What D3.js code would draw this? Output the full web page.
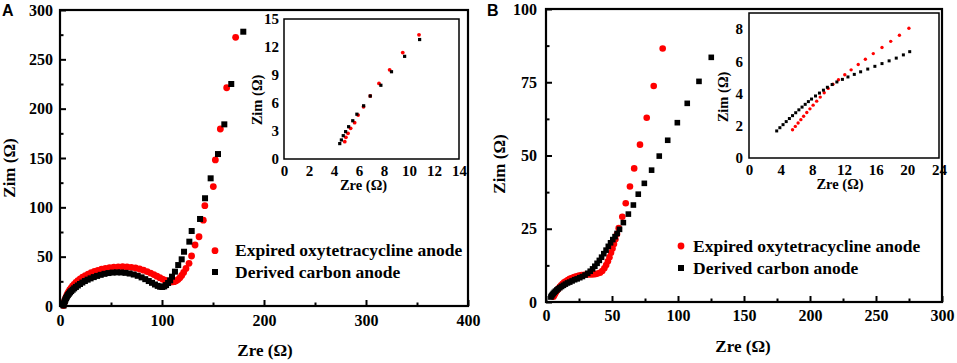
<!DOCTYPE html>
<html lang="en">
<head>
<meta charset="UTF-8">
<script src="https://d3js.org/d3.v7.min.js"></script>
<title>EIS Nyquist plots</title>
<style>
  body { margin: 0; background: #fff; }
  svg text { font-family: "Liberation Serif", "Times New Roman", serif; font-weight: bold; fill: #000; }
  svg text.letter { font-family: "Liberation Sans", Arial, sans-serif; }
</style>
</head>
<body>
<svg id="chart" width="957" height="363"></svg>
<script>

// ---- data: [Zre, Zim] in ohm ----
const seriesNames = ["Expired oxytetracycline anode", "Derived carbon anode"];

// panel A main
const aExpired = [[3.5,0.5],[3.9,2.5],[4.4,4.5],[5,6.5],[5.7,8.5],[6.5,10.5],[7.4,12.4],[8.4,14.3],[9.5,16.2],[10.8,18.1],
  [12.2,20],[13.8,21.9],[15.6,23.8],[17.6,25.7],[19.8,27.5],[22.2,29.2],[24.8,30.8],[27.6,32.3],[30.6,33.7],[33.8,35],
  [37.2,36.2],[40.8,37.3],[44.6,38.2],[48.6,38.9],[52.8,39.4],[57.1,39.7],[61.4,39.8],[65.7,39.6],[69.9,39.2],[74,38.5],
  [78,37.5],[81.8,36.3],[85.4,34.9],[88.8,33.4],[92,31.8],[95,30.2],[97.8,28.7],[100.4,27.3],[102.9,26.1],[105.3,25.2],
  [107.6,24.6],[109.8,24.4],[111.9,24.7],[113.9,25.5],[115.7,26.8],[117.5,28.6],[119.3,31],[121.2,34],[123.5,38],[126.5,43.3],
  [129,50.7],[132.4,61.8],[136.3,70.2],[140.5,87],[142,101.7],[150.3,121],[152.3,148],[157.2,179.4],[163.4,221.2],[172.2,272.3]];
const aCarbon = [[3.5,0.5],[3.8,2],[4.2,3.5],[4.7,5],[5.3,6.5],[6,8],[6.8,9.5],[7.7,11],[8.7,12.4],[9.8,13.8],
  [11,15.1],[12.4,16.5],[13.9,17.9],[15.6,19.3],[17.5,20.8],[19.6,22.3],[21.9,23.8],[24.4,25.3],[27.1,26.7],[30,28],
  [33.1,29.3],[36.4,30.5],[39.9,31.6],[43.6,32.6],[47.5,33.4],[51.6,33.9],[55.8,34.1],[60,34],[64.2,33.6],[68.3,32.9],
  [72.3,31.9],[76.2,30.6],[80,29],[83.6,27.2],[87,25.3],[90.2,23.5],[93.1,21.8],[95.8,20.4],[98.2,19.5],[100.3,19.3],
  [102.2,19.9],[104,21.2],[106,23.3],[108,26],[109.8,29.7],[112.7,34.8],[115.9,41.5],[119.3,47.3],[121.6,55],[126.8,65.2],
  [129.1,76],[137.3,88.2],[142.2,109.2],[147.7,129.4],[154.9,154],[161.1,184.1],[167.9,225],[179.7,278]];

// panel A inset
const aInsetExpired = [[4.86,1.86],[4.95,2.32],[5.12,2.75],[5.33,3.29],[5.65,3.89],[5.93,4.71],[6.36,5.6],[6.9,6.75],
  [7.6,8.1],[8.45,9.55],[9.5,11.4],[10.8,13.3]];
const aInsetCarbon = [[4.46,1.65],[4.59,2.04],[4.74,2.5],[4.93,2.93],[5.17,3.46],[5.5,4.1],[5.83,4.8],[6.37,5.7],
  [6.9,6.75],[7.75,7.9],[8.6,9.35],[9.65,11],[10.85,12.8]];

// panel B main
const bExpired = [[5.6,1.8],[6,2.2],[6.5,2.6],[7,3],[7.5,3.4],[8.1,3.8],[8.8,4.2],[9.6,4.7],[10.5,5.2],[11.5,5.7],
  [12.6,6.2],[13.8,6.7],[15.1,7.1],[16.5,7.5],[18,7.9],[19.6,8.2],[21.3,8.5],[23.1,8.8],[25,9],[27,9.2],
  [29,9.3],[31,9.35],[33,9.4],[35,9.4],[37,9.5],[39,9.7],[40.9,10],[42.6,10.6],[44.2,11.5],[45.6,12.6],
  [46.9,13.9],[48.1,15.3],[49.3,16.8],[50.4,18.3],[51.5,19.8],[52.6,21.4],[53.8,23.2],[55.1,25.2],[57.8,29.1],[60.4,33.7],
  [63.6,39.4],[66.8,45.6],[71.2,53.7],[76.3,62.9],[81.6,73.7],[88.4,86.5]];
const bCarbon = [[3.7,1.7],[4.2,2.1],[4.8,2.5],[5.5,2.9],[6.3,3.3],[7.2,3.7],[8.2,4.1],[9.3,4.5],[10.5,4.9],[11.8,5.3],
  [13.2,5.7],[14.7,6.1],[16.3,6.5],[18,6.8],[19.8,7.2],[21.7,7.6],[23.6,7.9],[25.6,8.3],[27.6,8.7],[29.6,9.2],
  [31.6,9.8],[33.5,10.5],[35.3,11.3],[37,12.2],[38.7,13.2],[40.4,14.2],[42.1,15.3],[43.8,16.5],[45.5,17.7],[47.2,19],
  [48.9,20.2],[50.6,21.3],[52.3,22.3],[53.9,23.4],[55.7,24.8],[58.6,27.1],[62.4,30],[66.2,33.1],[69.9,36.8],[74.5,40.5],
  [80,45],[85.8,49.8],[92.2,55.2],[99.5,61.2],[107,67.8],[115.9,75.3],[125.2,83.5]];

// panel B inset
const bInsetExpired = [[5.5,1.75],[5.85,1.96],[6.2,2.17],[6.55,2.38],[6.9,2.59],[7.3,2.82],[7.7,3.05],[8.1,3.28],
  [8.55,3.53],[9,3.78],[9.5,4.05],[10,4.32],[10.6,4.58],[11.3,4.86],[12.1,5.17],[12.9,5.47],[13.8,5.8],[14.7,6.13],
  [15.7,6.48],[16.8,6.86],[17.9,7.24],[19,7.62],[20.2,8.05]];
const bInsetCarbon = [[3.5,1.68],[3.9,1.88],[4.3,2.07],[4.7,2.26],[5.1,2.45],[5.5,2.63],[5.9,2.81],[6.3,2.99],
  [6.7,3.16],[7.1,3.33],[7.5,3.5],[7.9,3.66],[8.4,3.85],[8.9,4.03],[9.4,4.21],[9.9,4.39],[10.5,4.56],[11.1,4.72],
  [11.8,4.88],[12.5,5.03],[13.3,5.19],[14.1,5.35],[15,5.52],[15.9,5.69],[16.8,5.86],[17.7,6.03],[18.6,6.2],[19.5,6.4],[20.3,6.6]];

// tick values
const aXTicks = [0,100,200,300,400], aXMinor = [50,150,250,350];
const aYTicks = [0,50,100,150,200,250,300], aYMinor = [25,75,125,175,225,275];
const bXTicks = [0,50,100,150,200,250,300], bXMinor = [25,75,125,175,225,275];
const bYTicks = [0,25,50,75,100], bYMinor = [12.5,37.5,62.5,87.5];
const aInsetXTicks = [0,2,4,6,8,10,12,14], aInsetYTicks = [0,3,6,9,12,15];
const bInsetXTicks = [0,4,8,12,16,20,24], bInsetYTicks = [0,2,4,6,8];

const svg = d3.select("svg#chart");

function drawPanel(p) {
  const x = d3.scaleLinear().domain(p.xDomain).range([p.left, p.right]);
  const y = d3.scaleLinear().domain(p.yDomain).range([p.bottom, p.top]);
  const g = svg.append("g");

  g.append("rect")
    .attr("x", p.left).attr("y", p.top)
    .attr("width", p.right - p.left).attr("height", p.bottom - p.top)
    .attr("fill", "#fff");

  const styleAxis = (sel) => {
    sel.select(".domain").remove();
    sel.selectAll("line").attr("stroke-width", p.tickWidth);
    sel.selectAll("text").style("font-size", p.fontSize + "px");
  };

  if (p.xMinor) {
    g.append("g").attr("transform", `translate(0,${p.bottom})`)
      .call(d3.axisBottom(x).tickValues(p.xMinor).tickSize(-p.minorLen).tickFormat(""))
      .call(styleAxis);
  }
  if (p.yMinor) {
    g.append("g").attr("transform", `translate(${p.left},0)`)
      .call(d3.axisLeft(y).tickValues(p.yMinor).tickSize(-p.minorLen).tickFormat(""))
      .call(styleAxis);
  }
  g.append("g").attr("transform", `translate(0,${p.bottom})`)
    .call(d3.axisBottom(x).tickValues(p.xTicks).tickSize(-p.majorLen).tickPadding(p.padX))
    .call(styleAxis);
  g.append("g").attr("transform", `translate(${p.left},0)`)
    .call(d3.axisLeft(y).tickValues(p.yTicks).tickSize(-p.majorLen).tickPadding(p.padY))
    .call(styleAxis);

  // red circles first, black squares on top
  g.append("g").selectAll("circle")
    .data(p.red)
    .join("circle")
    .attr("cx", d => x(d[0]))
    .attr("cy", d => y(d[1]))
    .attr("r", p.r)
    .attr("fill", "#ff0000");

  g.append("g").selectAll("rect")
    .data(p.black)
    .join("rect")
    .attr("x", d => x(d[0]) - p.sq / 2)
    .attr("y", d => y(d[1]) - p.sq / 2)
    .attr("width", p.sq)
    .attr("height", p.sq)
    .attr("fill", "#000");

  g.append("rect")
    .attr("x", p.left).attr("y", p.top)
    .attr("width", p.right - p.left).attr("height", p.bottom - p.top)
    .attr("fill", "none").attr("stroke", "#000").attr("stroke-width", p.frameWidth);

  // axis titles
  g.append("text")
    .attr("x", (p.left + p.right) / 2 + p.xTitleDx)
    .attr("y", p.xTitleY)
    .attr("text-anchor", "middle")
    .style("font-size", p.titleSize + "px")
    .text("Zre (\u03A9)");
  g.append("text")
    .attr("transform", `translate(${p.yTitleX},${p.yTitleCy}) rotate(-90)`)
    .attr("text-anchor", "middle")
    .style("font-size", p.titleSize + "px")
    .text("Zim (\u03A9)");
}

function drawLegend(mx, tx, y1, y2) {
  const g = svg.append("g");
  g.append("circle").attr("cx", mx).attr("cy", y1).attr("r", 3.4).attr("fill", "#ff0000");
  g.append("rect").attr("x", mx - 3).attr("y", y2 - 3).attr("width", 6).attr("height", 6).attr("fill", "#000");
  g.append("text").attr("x", tx).attr("y", y1 + 5.5).style("font-size", "17.5px").text(seriesNames[0]);
  g.append("text").attr("x", tx).attr("y", y2 + 5.5).style("font-size", "17.5px").text(seriesNames[1]);
}

// panel A
drawPanel({
  left: 60, right: 468, top: 10, bottom: 306,
  xDomain: [0, 400], yDomain: [0, 300],
  xTicks: aXTicks, xMinor: aXMinor, yTicks: aYTicks, yMinor: aYMinor,
  majorLen: 6, minorLen: 3.5, tickWidth: 2, padX: 9, padY: 7, fontSize: 16,
  frameWidth: 2.2, red: aExpired, black: aCarbon, r: 3.4, sq: 6,
  titleSize: 17, xTitleDx: 1, xTitleY: 356, yTitleX: 15, yTitleCy: 168
});
drawPanel({
  left: 284, right: 459, top: 19, bottom: 159,
  xDomain: [0, 14], yDomain: [0, 15],
  xTicks: aInsetXTicks, yTicks: aInsetYTicks,
  majorLen: 0, minorLen: 0, tickWidth: 1, padX: 6, padY: 5, fontSize: 15,
  frameWidth: 1.5, red: aInsetExpired, black: aInsetCarbon, r: 1.9, sq: 3.2,
  titleSize: 14.5, xTitleDx: -8, xTitleY: 190, yTitleX: 262, yTitleCy: 100
});
drawLegend(215, 235, 250.7, 272);

// panel B
drawPanel({
  left: 546, right: 942, top: 9, bottom: 302,
  xDomain: [0, 300], yDomain: [0, 100],
  xTicks: bXTicks, xMinor: bXMinor, yTicks: bYTicks, yMinor: bYMinor,
  majorLen: 6, minorLen: 3.5, tickWidth: 2, padX: 8, padY: 9, fontSize: 16,
  frameWidth: 2.2, red: bExpired, black: bCarbon, r: 3.3, sq: 5.6,
  titleSize: 17, xTitleDx: -1, xTitleY: 352, yTitleX: 505, yTitleCy: 164
});
drawPanel({
  left: 749, right: 939, top: 13, bottom: 158,
  xDomain: [0, 24], yDomain: [0, 9],
  xTicks: bInsetXTicks, yTicks: bInsetYTicks,
  majorLen: 0, minorLen: 0, tickWidth: 1, padX: 6, padY: 6, fontSize: 15,
  frameWidth: 1.5, red: bInsetExpired, black: bInsetCarbon, r: 1.7, sq: 3,
  titleSize: 14.5, xTitleDx: -4, xTitleY: 189, yTitleX: 728, yTitleCy: 97
});
drawLegend(681, 693, 246, 268);

// panel letters
svg.append("text").attr("class", "letter").attr("x", 2).attr("y", 16).style("font-size", "16px").text("A");
svg.append("text").attr("class", "letter").attr("x", 487).attr("y", 16).style("font-size", "16px").text("B");

</script>
</body>
</html>
